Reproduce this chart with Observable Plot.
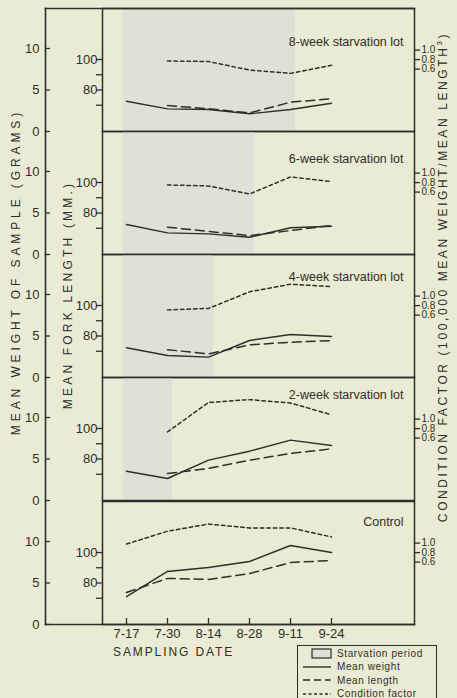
<!DOCTYPE html>
<html><head><meta charset="utf-8">
<script src="https://cdn.jsdelivr.net/npm/d3@7"></script>
<script src="https://cdn.jsdelivr.net/npm/@observablehq/plot@0.6"></script>
<style>
html,body{margin:0;padding:0;background:#e9ebd4;}
#chart{position:relative;width:457px;height:698px;overflow:hidden;background:#e9ebd4;font-family:"Liberation Sans",Arial,sans-serif;color:#2e2e2a;}
#chart svg.plot{position:absolute;left:0;}
.vt{position:absolute;white-space:nowrap;text-align:center;transform:rotate(-90deg);transform-origin:50% 50%;font-size:12px;line-height:14px;}
.lab{position:absolute;white-space:nowrap;}
</style></head><body><div id="chart"></div>
<script>
// ---------- data ----------
const dates = ["7-17","7-30","8-14","8-28","9-11","9-24"];
const panelTitles = ["8-week starvation lot","6-week starvation lot","4-week starvation lot","2-week starvation lot","Control"];
const starvationStart = "7-17";
const starvationEnd = ["9-11","8-28","8-14","7-30",null];

const weight8wk = [3.65,2.73,2.65,2.13,2.65,3.41];
const weight6wk = [3.61,2.61,2.49,2.08,3.22,3.41];
const weight4wk = [3.58,2.65,2.45,4.46,5.18,4.94];
const weight2wk = [3.53,2.65,4.86,5.94,7.27,6.63];
const weightCtl = [3.37,6.39,6.87,7.59,9.52,8.67];

const length8wk = [null,69.8,67.7,65.0,72.0,74.2];
const length6wk = [null,70.7,67.9,65.2,68.5,71.8];
const length4wk = [null,71.0,68.3,74.2,75.9,77.0];
const length2wk = [null,70.5,73.8,79.2,83.6,86.7];
const lengthCtl = [73.8,83.0,82.3,86.2,93.4,94.8];

const cf8wk = [null,0.77,0.76,0.58,0.51,0.68];
const cf6wk = [null,0.75,0.73,0.56,0.92,0.82];
const cf4wk = [null,0.71,0.74,1.09,1.25,1.20];
const cf2wk = [null,0.73,1.35,1.41,1.34,1.09];
const cfCtl = [0.98,1.25,1.40,1.32,1.32,1.13];

const weightTicks = [0,5,10];
const lengthTicks = [70,80,90,100];
const lengthLabels = [80,100];
const cfTicks = [0.6,0.8,1.0];

const weights = [weight8wk,weight6wk,weight4wk,weight2wk,weightCtl];
const lengths = [length8wk,length6wk,length4wk,length2wk,lengthCtl];
const cfs = [cf8wk,cf6wk,cf4wk,cf2wk,cfCtl];

// ---------- layout ----------
const W = 457, PH = 123;
const tops = [8,131,254,377,501];
const titleDy = [29,23,18,13,16];
const ink = "#2e2e2a";
const shade = "#dee1d5";
const xScale = {type:"linear", domain:[0, dates.length-1], range:[126,331], axis:null};
const wDomain = [0, PH/8.3];
const lBottom = 80 - 41.5/1.525;
const lDomain = [lBottom, lBottom + PH/1.525];
const cBottom = 1 - 81.4/47.5;
const cDomain = [cBottom, cBottom + PH/47.5];
const styleBase = {background:"transparent", overflow:"visible", fontFamily:"'Liberation Sans',Arial,sans-serif", fontSize:"13px", color:ink};

const chart = document.getElementById("chart");
function put(svg, top){ svg.classList.add("plot"); svg.style.top = top+"px"; svg.style.position="absolute"; svg.style.left="0px"; chart.appendChild(svg); }
const series = arr => arr.map((v,i)=>({i, v})).filter(d => d.v != null);
const idx = dates.map((d,i)=>i);

for (let p = 0; p < 5; p++) {
  const top = tops[p];
  // weight layer (outer left axis)
  const wMarks = [];
  if (starvationEnd[p]) {
    wMarks.push(Plot.rect([{a: dates.indexOf(starvationStart), b: dates.indexOf(starvationEnd[p])}],
      {x1:"a", x2:"b", fill:shade, insetLeft:-3, insetRight:-5}));
  }
  wMarks.push(
    Plot.frame({anchor:"left", stroke:ink, strokeWidth:1.6}),
    Plot.tickY(weightTicks, {y:d=>d, stroke:ink, strokeWidth:1.3, insetRight:(W-43)-50}),
    Plot.axisY({ticks:weightTicks, tickSize:0, tickPadding:6, anchor:"left", label:null}),
    Plot.line(series(weights[p]), {x:"i", y:"v", stroke:ink, strokeWidth:1.4})
  );
  if (p === 0) wMarks.push(Plot.frame({anchor:"top", stroke:ink, strokeWidth:1.6}));
  if (p === 4) wMarks.push(Plot.frame({anchor:"bottom", stroke:ink, strokeWidth:1.6}));
  put(Plot.plot({width:W, height:PH, marginTop:0, marginBottom:0, marginLeft:45, marginRight:43,
    x:xScale, y:{domain:wDomain, range:[PH,0], axis:null, label:null}, style:styleBase, marks:wMarks}), top);

  // length layer (inner left axis + frame)
  put(Plot.plot({width:W, height:PH, marginTop:0, marginBottom:0, marginLeft:102, marginRight:43,
    x:xScale, y:{domain:lDomain, range:[PH,0], axis:null, label:null}, style:styleBase,
    marks:[
      Plot.frame({stroke:ink, strokeWidth:1.5}),
      Plot.axisY({ticks:lengthTicks, tickFormat:d => lengthLabels.includes(d) ? String(d) : "", tickSize:6, tickPadding:-1, anchor:"left", strokeWidth:1.3, label:null}),
      Plot.line(series(lengths[p]), {x:"i", y:"v", stroke:ink, strokeWidth:1.5, strokeDasharray:"9,5"})
    ]}), top);

  // condition factor layer (right axis, title, dates)
  const cMarks = [
    Plot.axisY({ticks:cfTicks, tickFormat:d => d.toFixed(1), tickSize:5, tickPadding:2, anchor:"right", strokeWidth:1.3, fontSize:10, label:null}),
    Plot.line(series(cfs[p]), {x:"i", y:"v", stroke:ink, strokeWidth:1.5, strokeDasharray:"3.5,3"}),
    Plot.text([panelTitles[p]], {text:d=>d, frameAnchor:"top-right", dx:-11, dy:titleDy[p], textAnchor:"end", fontSize:12.5, fill:ink, style:"letter-spacing:1.2px"})
  ];
  if (p === 4) {
    cMarks.push(
      Plot.tickX(idx, {x:d=>d, stroke:ink, strokeWidth:1.3, insetTop:PH-6}),
      Plot.axisX({ticks:idx, tickFormat:i => dates[i], tickSize:0, tickPadding:4, anchor:"bottom", label:null})
    );
  }
  put(Plot.plot({width:W, height:PH, marginTop:0, marginBottom:0, marginLeft:102, marginRight:43,
    x:xScale, y:{domain:cDomain, range:[PH,0], axis:null, label:null}, style:styleBase, marks:cMarks}), top);
}

// ---------- axis titles ----------
function vt(text, cx, cy, w, ls){
  const d = document.createElement("div");
  d.className = "vt"; d.innerHTML = text;
  d.style.width = w+"px"; d.style.left = (cx - w/2)+"px"; d.style.top = (cy - 7)+"px";
  d.style.letterSpacing = ls+"px";
  chart.appendChild(d);
}
vt("MEAN WEIGHT OF SAMPLE (GRAMS)", 16, 272, 360, 3.9);
vt("MEAN FORK LENGTH (MM.)", 68, 295, 260, 3.2);
vt("CONDITION FACTOR (100,000 MEAN WEIGHT/MEAN LENGTH<sup style='font-size:8px;line-height:0'>3</sup>)", 443, 277, 560, 2.6);

const sd = document.createElement("div");
sd.className = "lab"; sd.textContent = "SAMPLING DATE";
Object.assign(sd.style, {left:"113px", top:"645px", fontSize:"12px", letterSpacing:"1.9px"});
chart.appendChild(sd);

// ---------- legend ----------
const lg = document.createElement("div");
Object.assign(lg.style, {position:"absolute", left:"297px", top:"645px", width:"140px", height:"70px", border:"1.3px solid "+ink, boxSizing:"border-box", fontSize:"10px", letterSpacing:"0.6px"});
const items = [
  {label:"Starvation period", kind:"box"},
  {label:"Mean weight", dash:null},
  {label:"Mean length", dash:"7,4"},
  {label:"Condition factor", dash:"3,2.5"}
];
items.forEach((it,k) => {
  const row = document.createElement("div");
  Object.assign(row.style, {position:"absolute", left:"3px", top:(1 + k*13.5)+"px", height:"12px", display:"flex", alignItems:"center", whiteSpace:"nowrap"});
  const sw = it.kind === "box"
    ? `<svg width="32" height="12"><rect x="11" y="2" width="19" height="9" fill="${shade}" stroke="${ink}" stroke-width="1.2"/></svg>`
    : `<svg width="32" height="12"><line x1="2" x2="30" y1="6" y2="6" stroke="${ink}" stroke-width="1.4" ${it.dash ? `stroke-dasharray="${it.dash}"` : ""}/></svg>`;
  row.innerHTML = sw + `<span style="margin-left:4px">${it.label}</span>`;
  lg.appendChild(row);
});
chart.appendChild(lg);
</script>
</body></html>
